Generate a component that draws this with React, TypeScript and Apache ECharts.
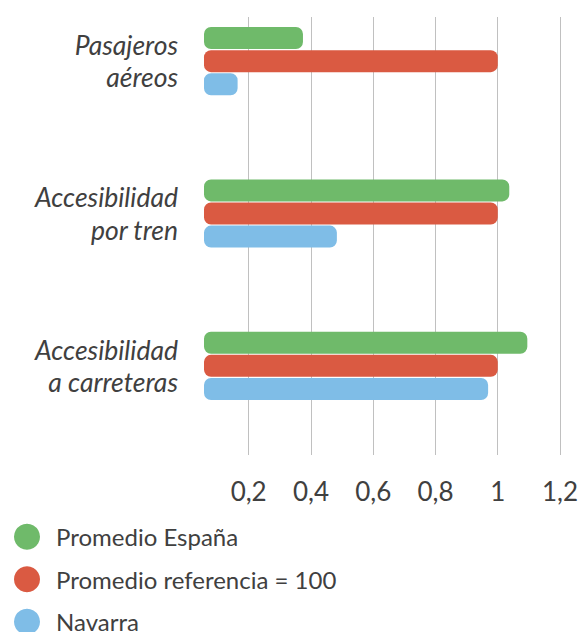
import React, { useEffect, useRef } from "react";
import * as echarts from "echarts";

const categories = ["Pasajeros\naéreos", "Accesibilidad\npor tren", "Accesibilidad\na carreteras"];
const seriesNames = ["Promedio España", "Promedio referencia = 100", "Navarra"];
const espana = [0.374, 1.037, 1.095];
const referencia = [1, 1, 1];
const navarra = [0.164, 0.483, 0.969];
const xTicks = [0, 0.2, 0.4, 0.6, 0.8, 1, 1.2];
const barAxisMin = 0.056;
const axisMax = 1.2;
const colors = ["#6FBA6A", "#DA5A42", "#7FBDE7"];

export default function App() {
  const ref = useRef<HTMLDivElement>(null);
  useEffect(() => {
    if (!ref.current) return;
    const chart = echarts.init(ref.current, undefined, { renderer: "svg" });
    const interval = xTicks[1] - xTicks[0];
    const values = [espana, referencia, navarra];
    chart.setOption({
      animation: false,
      textStyle: { fontFamily: "Lato" },
      color: colors,
      grid: [
        { left: 204, right: 22, top: -15, bottom: 190, outerBoundsMode: "none" },
        { left: 186.4, right: 22, top: 17, bottom: 177, outerBoundsMode: "none" },
      ],
      legend: {
        orient: "vertical",
        left: 9,
        top: 518.7,
        height: 130,
        icon: "circle",
        itemWidth: 48,
        itemHeight: 26,
        itemGap: 16.5,
        data: seriesNames,
        textStyle: { fontSize: 24, color: "#404040", fontFamily: "Lato" },
      },
      xAxis: [
        {
          gridIndex: 0,
          type: "value",
          min: barAxisMin,
          max: axisMax,
          show: false,
          splitLine: { show: false },
        },
        {
          gridIndex: 1,
          type: "value",
          min: xTicks[0],
          max: xTicks[xTicks.length - 1],
          interval,
          axisLine: { show: false },
          axisTick: { show: false },
          splitLine: {
            show: true,
            showMinLine: false,
            lineStyle: { color: "#c0c0c0", width: 1 },
          },
          axisLabel: {
            showMinLabel: false,
            margin: 23,
            fontSize: 26,
            color: "#404040",
            fontFamily: "Lato",
            formatter: (v: number) => String(Math.round(v * 10) / 10).replace(".", ","),
          },
        },
      ],
      yAxis: [
        {
          gridIndex: 0,
          type: "category",
          data: categories,
          inverse: true,
          axisLine: { show: false },
          axisTick: { show: false },
          splitLine: { show: false },
          axisLabel: {
            margin: 26,
            fontSize: 26.5,
            lineHeight: 32.5,
            fontStyle: "italic",
            color: "#404040",
            fontFamily: "Lato",
            align: "right",
          },
        },
        { gridIndex: 1, type: "value", show: false, splitLine: { show: false } },
      ],
      series: seriesNames.map((name, i) => ({
        name,
        type: "bar",
        xAxisIndex: 0,
        yAxisIndex: 0,
        data: values[i],
        barWidth: 22,
        barGap: "5%",
        itemStyle: { color: colors[i], borderRadius: 7 },
      })),
    });
    return () => chart.dispose();
  }, []);
  return (
    <div
      ref={ref}
      style={{ position: "absolute", left: 0, top: 0, width: 582, height: 632 }}
    />
  );
}
